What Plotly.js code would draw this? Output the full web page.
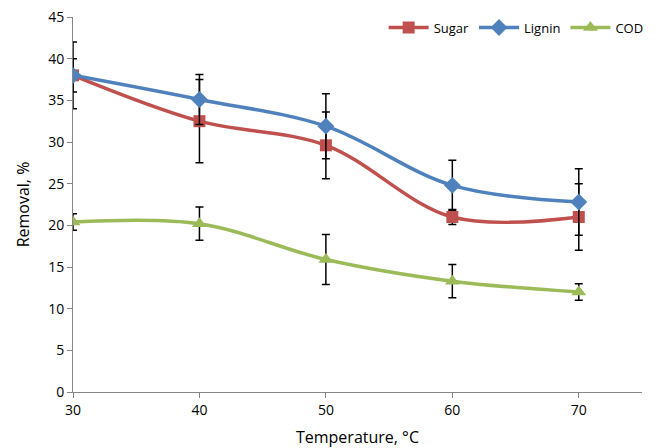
<!DOCTYPE html>
<html><head><meta charset="utf-8">
<script src="https://cdn.plot.ly/plotly-3.0.1.min.js"></script>
<style>html,body{margin:0;padding:0;background:#fff}#chart{width:660px;height:448px}</style>
</head><body><div id="chart"></div>
<script>
const temperature = [30, 40, 50, 60, 70];
const sugar = [38.0, 32.5, 29.6, 21.0, 21.0];
const sugarErr = [4.0, 5.0, 4.0, 0.9, 4.0];
const lignin = [38.0, 35.1, 31.9, 24.8, 22.8];
const ligninErr = [2.0, 3.0, 3.9, 3.0, 4.0];
const cod = [20.4, 20.2, 15.9, 13.3, 12.0];
const codErr = [1.0, 2.0, 3.0, 2.0, 1.0];
const xTicks = [30, 40, 50, 60, 70];
const yTicks = [0, 5, 10, 15, 20, 25, 30, 35, 40, 45];

function series(name, y, err, color, symbol, size) {
  return {
    x: temperature, y: y, name: name, type: 'scatter', mode: 'lines+markers',
    line: {color: color, width: 3.5, shape: 'spline', smoothing: 1},
    marker: {color: color, symbol: symbol, size: size},
    error_y: {type: 'data', array: err, visible: true, color: '#000', thickness: 1.5, width: 4}
  };
}
const data = [
  series('Sugar', sugar, sugarErr, '#C0504D', 'square', 12),
  series('Lignin', lignin, ligninErr, '#4F81BD', 'diamond', 13),
  series('COD', cod, codErr, '#9BBB59', 'triangle-up', 13)
];
const font = {family: 'Open Sans, Liberation Sans, sans-serif', size: 14, color: '#000'};
const layout = {
  width: 660, height: 448,
  margin: {l: 73, r: 17, t: 17, b: 56},
  paper_bgcolor: '#fff', plot_bgcolor: '#fff',
  font: font,
  showlegend: true,
  legend: {orientation: 'h', x: 0.545, y: 1.012, xanchor: 'left', yanchor: 'top',
           font: {family: font.family, size: 13, color: '#000'}, bgcolor: 'rgba(0,0,0,0)',
           itemwidth: 40, tracegroupgap: 0},
  xaxis: {
    range: [30, 75], tickvals: xTicks, ticktext: xTicks.map(String),
    showgrid: false, zeroline: false, showline: true, linecolor: '#868686', linewidth: 1,
    ticks: 'outside', ticklen: 5, tickcolor: '#868686',
    title: {text: 'Temperature, °C', font: {family: font.family, size: 16}, standoff: 14},
    automargin: false
  },
  yaxis: {
    range: [0, 45], tickvals: yTicks, ticktext: yTicks.map(String),
    showgrid: false, zeroline: false, showline: true, linecolor: '#868686', linewidth: 1,
    ticks: 'outside', ticklen: 5, tickcolor: '#868686',
    title: {text: 'Removal, %', font: {family: font.family, size: 16}, standoff: 14},
    automargin: false
  }
};
Plotly.newPlot('chart', data, layout, {displayModeBar: false, staticPlot: true});
</script>
</body></html>
